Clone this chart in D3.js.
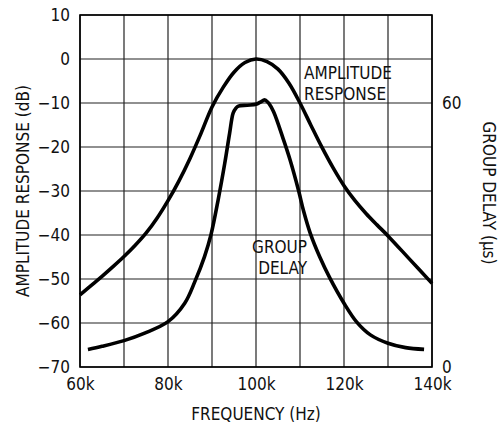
<!DOCTYPE html>
<html>
<head>
<meta charset="utf-8" />
<title></title>
<script src="https://cdn.jsdelivr.net/npm/d3@7"></script>
<style>
    body { margin: 0; background: #fff; }
    text { font-family: "DejaVu Sans Condensed", "DejaVu Sans", sans-serif; font-stretch: condensed; font-size: 17px; fill: #111; }
</style>
</head>
<body>
<div id="chart"></div>
<script>
    // amplitude response, frequency in Hz / level in dB
    var ampFreq = [60000, 62500, 65000, 67500, 70000, 72500, 75000, 77500, 80000, 82500, 85000, 87500, 90000, 92500, 95000, 97500, 100000,
        102500, 105000, 107500, 110000, 112500, 115000, 117500, 120000, 122500, 125000, 127500, 130000, 135000, 140000];
    var ampDb = [-53.6, -51.5, -49.4, -47.2, -44.9, -42.4, -39.6, -36.2, -32.2, -27.7, -22.6, -16.9, -10.9, -6.5, -3.0, -0.8, 0,
        -0.6, -2.3, -5.5, -10, -15.1, -20.1, -24.7, -28.8, -32.2, -35.1, -37.7, -40.2, -45.6, -51];

    // group delay, frequency in Hz / delay in us
    var gdFreq = [61800, 65000, 70000, 74700, 80000, 83800, 86100, 88300, 89800, 91400, 92900, 94000, 94800, 95400, 96000, 98000, 100000,
        101000, 102000, 103000, 104000, 106200, 107700, 109700, 110800, 112300, 114500, 116800, 120000, 122900, 126000, 130000, 134000, 138200];
    var gdUs = [4.0, 4.7, 6.0, 7.7, 10.3, 14.5, 19.4, 25.1, 30.2, 38, 46.3, 53.1, 57.7, 58.8, 59.3, 59.5, 59.7,
        60.2, 60.7, 59.8, 58, 51.8, 47.2, 40, 35.5, 30.5, 25, 20.2, 14.5, 10.2, 7.3, 5.4, 4.4, 4.0];

    var dbTicks = [10, 0, -10, -20, -30, -40, -50, -60, -70];
    var usTicks = [0, 60];
    var freqTicks = [60000, 80000, 100000, 120000, 140000];
    var freqGrid = d3.range(60000, 140001, 10000);

    var W = 498, H = 428;
    var pLeft = 80, pRight = 432, pTop = 15, pBottom = 367;

    var svg = d3.select("#chart").append("svg").attr("width", W).attr("height", H);

    var x = d3.scaleLinear().domain([60000, 140000]).range([pLeft, pRight]);
    var yL = d3.scaleLinear().domain([-70, 10]).range([pBottom, pTop]);
    var yR = d3.scaleLinear().domain([0, 80]).range([pBottom, pTop]);

    // grid
    svg.append("g").selectAll("line").data(freqGrid).enter().append("line")
        .attr("x1", function (d) { return x(d); }).attr("x2", function (d) { return x(d); })
        .attr("y1", pTop).attr("y2", pBottom)
        .attr("stroke", "#222").attr("stroke-width", 1.2);
    svg.append("g").selectAll("line").data(dbTicks).enter().append("line")
        .attr("y1", function (d) { return yL(d); }).attr("y2", function (d) { return yL(d); })
        .attr("x1", pLeft).attr("x2", pRight)
        .attr("stroke", "#222").attr("stroke-width", 1.2);

    svg.append("rect").attr("x", pLeft).attr("y", pTop)
        .attr("width", pRight - pLeft).attr("height", pBottom - pTop)
        .attr("fill", "none").attr("stroke", "#000").attr("stroke-width", 1.6);

    // axes (labels only)
    var axL = svg.append("g").attr("transform", "translate(" + pLeft + ",0)")
        .call(d3.axisLeft(yL).tickValues(dbTicks).tickSize(0).tickPadding(10));
    var axR = svg.append("g").attr("transform", "translate(" + pRight + ",0)")
        .call(d3.axisRight(yR).tickValues(usTicks).tickSize(0).tickPadding(10));
    var axB = svg.append("g").attr("transform", "translate(0," + pBottom + ")")
        .call(d3.axisBottom(x).tickValues(freqTicks).tickSize(0).tickPadding(11)
            .tickFormat(function (d) { return (d / 1000) + "k"; }));
    [axL, axR, axB].forEach(function (a) {
        a.select(".domain").remove();
        a.attr("font-size", null).attr("font-family", null);
    });

    // curves
    var lineAmp = d3.line()
        .x(function (d, i) { return x(ampFreq[i]); })
        .y(function (d) { return yL(d); })
        .curve(d3.curveCatmullRom.alpha(0.5));
    var lineGd = d3.line()
        .x(function (d, i) { return x(gdFreq[i]); })
        .y(function (d) { return yR(d); })
        .curve(d3.curveCatmullRom.alpha(0.5));

    svg.append("path").datum(ampDb).attr("d", lineAmp)
        .attr("fill", "none").attr("stroke", "#000").attr("stroke-width", 3.6).attr("stroke-linejoin", "round");
    svg.append("path").datum(gdUs).attr("d", lineGd)
        .attr("fill", "none").attr("stroke", "#000").attr("stroke-width", 3.6).attr("stroke-linejoin", "round");

    // curve labels
    svg.append("text").attr("x", 304).attr("y", 78.5).text("AMPLITUDE");
    svg.append("text").attr("x", 304).attr("y", 100).text("RESPONSE");
    svg.append("text").attr("x", 307).attr("y", 252.5).attr("text-anchor", "end").text("GROUP");
    svg.append("text").attr("x", 307).attr("y", 273.5).attr("text-anchor", "end").text("DELAY");

    // titles
    svg.append("text").attr("x", 256).attr("y", 420).attr("text-anchor", "middle").text("FREQUENCY (Hz)");
    svg.append("text").attr("transform", "translate(29,191) rotate(-90)").attr("text-anchor", "middle")
        .text("AMPLITUDE RESPONSE (dB)");
    svg.append("text").attr("transform", "translate(483,193) rotate(90)").attr("text-anchor", "middle")
        .text("GROUP DELAY (µs)");
</script>
</body>
</html>
